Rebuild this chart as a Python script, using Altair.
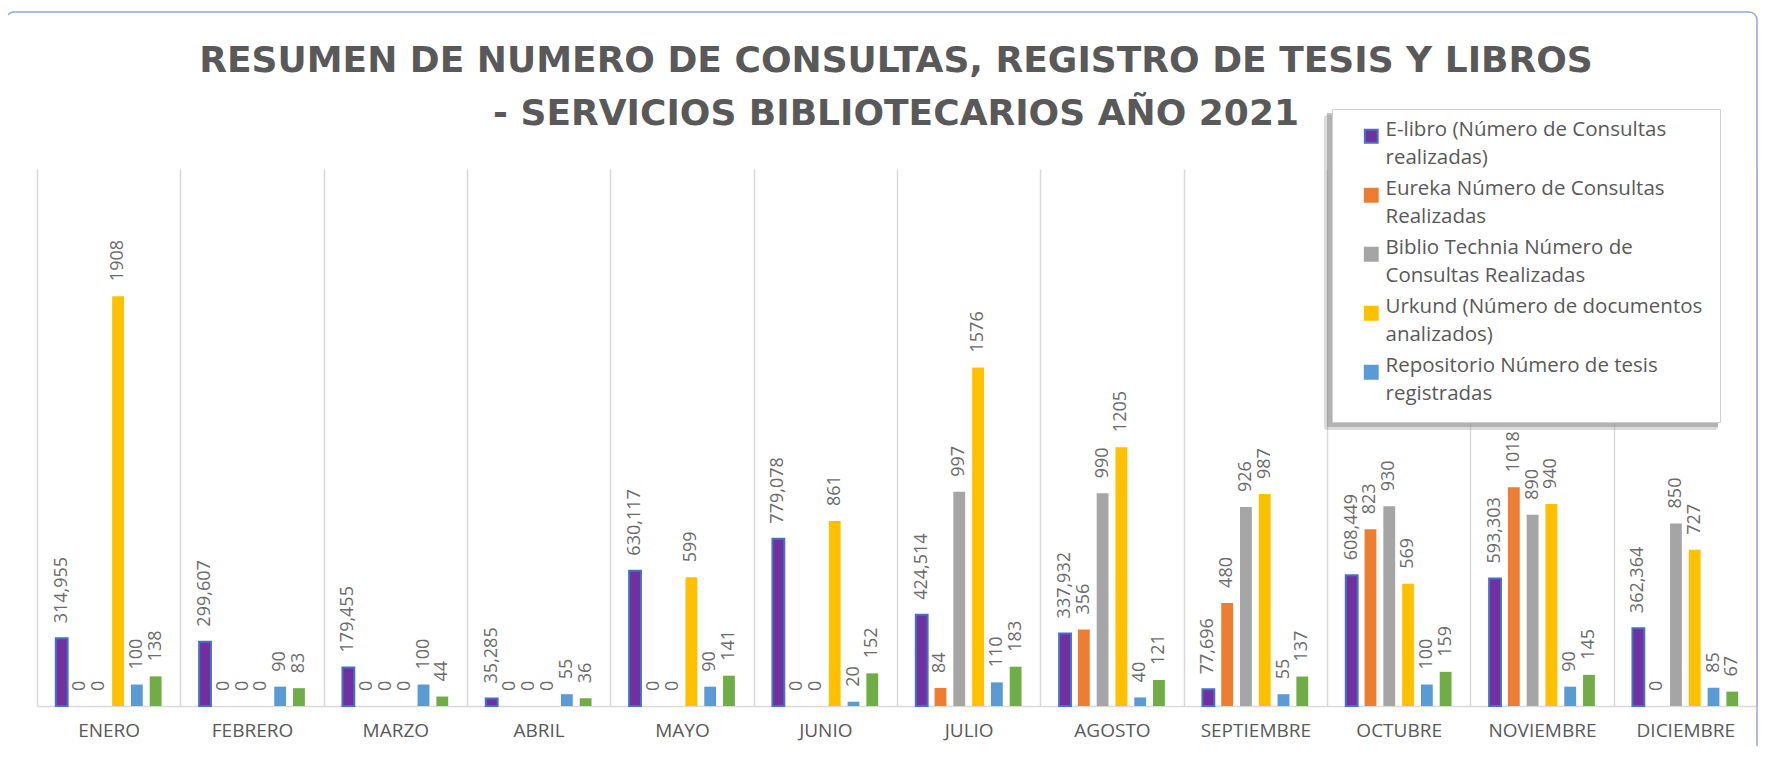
import json
import altair as alt
import pandas as pd

months = ["ENERO", "FEBRERO", "MARZO", "ABRIL", "MAYO", "JUNIO", "JULIO",
          "AGOSTO", "SEPTIEMBRE", "OCTUBRE", "NOVIEMBRE", "DICIEMBRE"]

series_names = [
    "E-libro  (Número de Consultas realizadas)",
    "Eureka   Número de Consultas Realizadas",
    "Biblio Technia  Número de Consultas Realizadas",
    "Urkund (Número de documentos analizados)",
    "Repositorio Número de tesis registradas",
    "Registro de libros",
]
legend_wrapped = [
    ["E-libro  (Número de Consultas", "realizadas)"],
    ["Eureka   Número de Consultas", "Realizadas"],
    ["Biblio Technia  Número de", "Consultas Realizadas"],
    ["Urkund (Número de documentos", "analizados)"],
    ["Repositorio Número de tesis", "registradas"],
]
fill_colors = ["#7030A0", "#ED7D31", "#A5A5A5", "#FFC000", "#5B9BD5", "#70AD47"]
stroke_colors = ["#4472C4", "#ED7D31", "#A5A5A5", "#FFC000", "#5B9BD5", "#70AD47"]

elibro = [314.955, 299.607, 179.455, 35.285, 630.117, 779.078,
          424.514, 337.932, 77.696, 608.449, 593.303, 362.364]
eureka = [0, 0, 0, 0, 0, 0, 84, 356, 480, 823, 1018, 0]
biblio = [0, 0, 0, 0, 0, 0, 997, 990, 926, 930, 890, 850]
urkund = [1908, 0, 0, 0, 599, 861, 1576, 1205, 987, 569, 940, 727]
repositorio = [100, 90, 100, 55, 90, 20, 110, 40, 55, 100, 90, 85]
libros = [138, 83, 44, 36, 141, 152, 183, 121, 137, 159, 145, 67]

title_line1 = "RESUMEN DE NUMERO DE CONSULTAS, REGISTRO DE TESIS Y LIBROS"
title_line2 = "- SERVICIOS BIBLIOTECARIOS AÑO 2021"

all_values = [elibro, eureka, biblio, urkund, repositorio, libros]
rows = []
for s_idx, (name, vals) in enumerate(zip(series_names, all_values)):
    for m, v in zip(months, vals):
        lab = f"{v:.3f}".replace(".", ",") if s_idx == 0 else str(int(v))
        rows.append({"mes": m, "serie": name, "valor": v, "etiqueta": lab})
df = pd.DataFrame(rows)

W, H = 1720, 537
GRAY = "#595959"
FONT = "Open Sans"
TITLE_FONT = "DejaVu Sans"

label_expr = ""
for name, lines in zip(series_names[:5], legend_wrapped):
    label_expr += f"datum.label == '{name}' ? {json.dumps(lines, ensure_ascii=False)} : "
label_expr += "datum.label"

legend = alt.Legend(
    title=None, orient="none", legendX=1295, legendY=-60,
    values=series_names[:5], labelExpr=label_expr,
    labelFont=FONT, labelFontSize=20.5, labelColor=GRAY,
    labelBaseline="alphabetic", labelLimit=600, labelOffset=4,
    symbolType="square", symbolSize=165, symbolStrokeWidth=2, symbolOffset=12,
    fillColor="white", strokeColor="#D0D0D0", padding=17, rowPadding=10,
    direction="vertical",
)

x_enc = alt.X("mes:N", sort=months, title=None,
              scale=alt.Scale(paddingInner=0, paddingOuter=0),
              axis=alt.Axis(labelAngle=0, labelFont=FONT, labelFontSize=19,
                            labelColor=GRAY, ticks=False, domainColor="#D9D9D9",
                            domainWidth=1.5, grid=True, gridColor="#D9D9D9",
                            gridWidth=1.5, tickBand="extent", labelPadding=15))
xo_enc = alt.XOffset("serie:N", sort=series_names,
                     scale=alt.Scale(domain=series_names, paddingInner=0.37, paddingOuter=1))
y_enc = alt.Y("valor:Q", scale=alt.Scale(domain=[0, 2500], nice=False), axis=None)

base = alt.Chart(df)

bars = base.mark_bar().encode(
    x=x_enc, xOffset=xo_enc, y=y_enc,
    fill=alt.Fill("serie:N", scale=alt.Scale(domain=series_names, range=fill_colors), legend=legend),
    stroke=alt.Stroke("serie:N", scale=alt.Scale(domain=series_names, range=stroke_colors), legend=legend),
    strokeWidth=alt.condition(alt.datum.serie == series_names[0], alt.value(2), alt.value(0)),
)

labels = base.mark_text(angle=270, align="left", baseline="middle", dx=15,
                        font=FONT, fontSize=18, color="#6B6B6B").encode(
    x=x_enc, xOffset=xo_enc, y=y_enc, text="etiqueta:N")

border = alt.Chart(alt.Data(values=[{}])).mark_rect(
    filled=False, stroke="#8FAADC", strokeWidth=1.5, cornerRadius=8).encode(
    x=alt.value(-31), x2=alt.value(W), y=alt.value(-157), y2=alt.value(H + 80))

# soft drop shadow behind the legend box
shadow_outer = alt.Chart(alt.Data(values=[{}])).mark_rect(
    fill="#9A9A9A", opacity=0.35, cornerRadius=3).encode(
    x=alt.value(1287), x2=alt.value(1681), y=alt.value(-54), y2=alt.value(261))
shadow_inner = alt.Chart(alt.Data(values=[{}])).mark_rect(
    fill="#8A8A8A", opacity=0.5).encode(
    x=alt.value(1290), x2=alt.value(1681), y=alt.value(-56), y2=alt.value(258))

title1 = alt.Chart(alt.Data(values=[{"t": title_line1}])).mark_text(
    align="center", baseline="alphabetic", font=TITLE_FONT, fontSize=36, fontWeight="bold",
    color=GRAY).encode(x=alt.value(859), y=alt.value(-97), text="t:N")
title2 = alt.Chart(alt.Data(values=[{"t": title_line2}])).mark_text(
    align="center", baseline="alphabetic", font=TITLE_FONT, fontSize=36, fontWeight="bold",
    color=GRAY).encode(x=alt.value(859), y=alt.value(-44), text="t:N")

chart = alt.layer(border, title1, title2, bars, labels, shadow_outer, shadow_inner).properties(
    width=W, height=H,
    autosize="none",
    padding={"left": 29, "top": 161, "right": 1, "bottom": 40},
).configure(
    style={"guide-label": {"lineHeight": 28}}
).configure_view(stroke=None)

chart.save("out.html", embed_options={"renderer": "svg", "actions": False})
